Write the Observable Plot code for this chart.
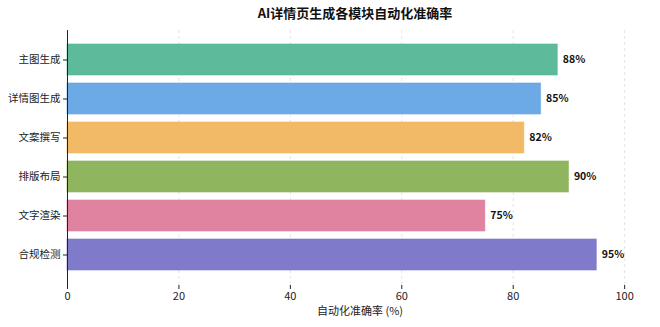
<!DOCTYPE html>
<html><head><meta charset="utf-8">
<script src="https://cdn.jsdelivr.net/npm/d3@7"></script>
<script src="https://cdn.jsdelivr.net/npm/@observablehq/plot@0.6"></script>
<style>
body{margin:0;background:#fff;font-family:"Noto Sans CJK SC","Noto Sans",sans-serif;}
#title{height:26px;line-height:26px;text-align:center;font-size:13px;font-weight:bold;color:#111;padding-left:50px;box-sizing:border-box;width:660px;}
</style></head><body>
<div id="title">AI详情页生成各模块自动化准确率</div>
<div id="chart"></div>
<script>
const modules = ["主图生成","详情图生成","文案撰写","排版布局","文字渲染","合规检测"];
const accuracy = [88,85,82,90,75,95];
const colors = ["#58b897","#67a7e4","#f2b762","#8bb35a","#de7f9e","#7b77c8"];
const xTicks = [0,20,40,60,80,100];

const data = modules.map((m,i)=>({module:m, value:accuracy[i], color:colors[i]}));

const plot = Plot.plot({
  width: 660,
  height: 301,
  marginTop: 4,
  marginLeft: 67,
  marginRight: 8,
  marginBottom: 42,
  style: {fontFamily: '"Noto Sans CJK SC","Noto Sans",sans-serif', fontSize: "10px", color: "#222"},
  x: {domain:[0,105], ticks: xTicks, label: null},
  y: {domain: modules, paddingInner: 0.2, paddingOuter: 0.31, label: null},
  marks: [
    Plot.ruleX(xTicks.slice(1), {stroke:"#ddd", strokeDasharray:"3,3", strokeWidth:0.8}),
    Plot.barX(data, {y:"module", x:"value", fill:"color", fillOpacity:0.97, stroke:"color", strokeOpacity:0.6, strokeWidth:1}),
    Plot.text(data, {y:"module", x:"value", text:d=>d.value+"%", textAnchor:"start", dx:5, fontWeight:"bold", fontSize:10.5, fill:"#111"}),
    Plot.axisX({ticks: xTicks, tickSize:4, fontSize:11, label:null, tickPadding:3}),
    Plot.axisY({tickSize:4, fontSize:10.5, label:null, tickPadding:3}),
    Plot.ruleX([0], {stroke:"#222", strokeWidth:1}),
    Plot.ruleY([0], {stroke:"#222", strokeWidth:1}),
    Plot.text(["自动化准确率 (%)"], {frameAnchor:"bottom", dy:29, fontSize:11, fill:"#222"})
  ]
});
document.getElementById("chart").appendChild(plot);
</script>
</body></html>
